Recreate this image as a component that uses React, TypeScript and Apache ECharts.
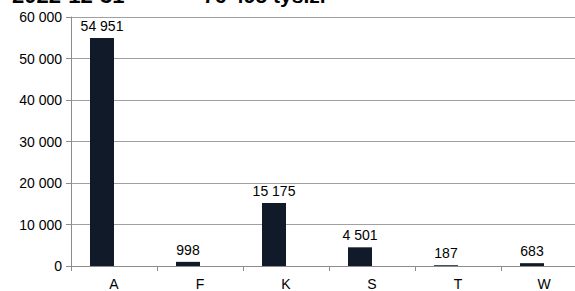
import React, { useEffect, useRef } from "react";
import * as echarts from "echarts";

const titleDate = "2022-12-31";
const titleTotal = "76 495 tys.zł";
const categories = ["A", "F", "K", "S", "T", "W"];
const values = [54951, 998, 15175, 4501, 187, 683];
const emptySeries = [null, null, null, null, null, null];
const yTicks = { min: 0, max: 60000, interval: 10000 };

const fmt = (v: number) =>
  String(Math.round(v)).replace(/\B(?=(\d{3})+(?!\d))/g, " ");

export default function App() {
  const ref = useRef<HTMLDivElement>(null);
  useEffect(() => {
    if (!ref.current) return;
    const chart = echarts.init(ref.current, undefined, { renderer: "svg" });
    chart.setOption({
      animation: false,
      textStyle: { fontFamily: "Liberation Sans, Arial, sans-serif" },
      graphic: [
        {
          type: "text",
          x: 12,
          y: 6,
          style: {
            text: titleDate,
            font: "bold 22px 'Liberation Sans', Arial, sans-serif",
            fill: "#000",
            verticalAlign: "bottom",
          },
        },
        {
          type: "text",
          x: 203,
          y: 6,
          style: {
            text: titleTotal,
            font: "bold 21px 'Liberation Sans', Arial, sans-serif",
            fill: "#000",
            verticalAlign: "bottom",
          },
        },
      ],
      grid: { left: 71, top: 17, width: 516, height: 251, containLabel: false },
      xAxis: {
        type: "category",
        data: categories,
        boundaryGap: true,
        axisLine: { lineStyle: { color: "#8c8c8c", width: 1 } },
        axisTick: { show: true, length: 5, lineStyle: { color: "#8c8c8c" } },
        axisLabel: { color: "#000", fontSize: 14, margin: 11 },
        splitLine: { show: false },
      },
      yAxis: {
        type: "value",
        min: yTicks.min,
        max: yTicks.max,
        interval: yTicks.interval,
        axisLine: { show: true, lineStyle: { color: "#8c8c8c", width: 1 } },
        axisTick: { show: true, length: 5, lineStyle: { color: "#8c8c8c" } },
        axisLabel: { color: "#000", fontSize: 14, margin: 9, formatter: (v: number) => fmt(v) },
        splitLine: { show: true, lineStyle: { color: "#a0a0a0", width: 1 } },
      },
      series: [
        {
          type: "bar",
          data: values,
          barWidth: 24,
          barGap: "0%",
          itemStyle: { color: "#111a29" },
          label: {
            show: true,
            position: "top",
            distance: 5,
            color: "#000",
            fontSize: 14,
            formatter: (p: any) => fmt(p.value),
          },
        },
        {
          type: "bar",
          data: emptySeries,
          barWidth: 24,
          barGap: "0%",
          itemStyle: { color: "#4f6228" },
        },
      ],
    });
    return () => chart.dispose();
  }, []);
  return (
    <div style={{ position: "absolute", left: 0, top: 0, width: 575, height: 291, overflow: "hidden", background: "#fff" }}>
      <div ref={ref} style={{ width: 600, height: 291 }} />
    </div>
  );
}
